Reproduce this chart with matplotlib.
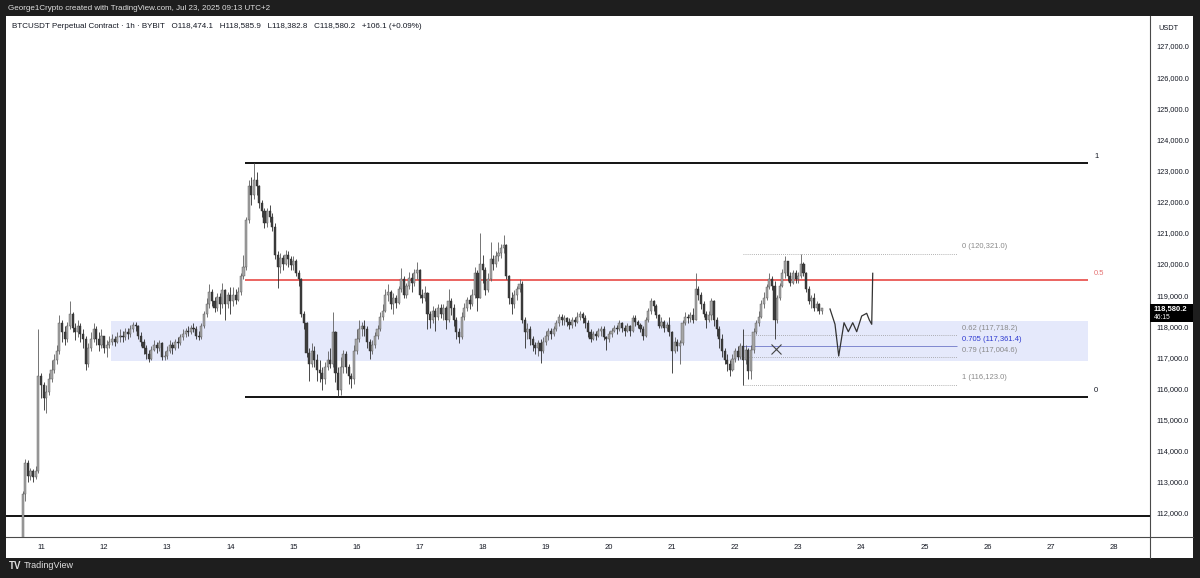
import matplotlib
matplotlib.use("Agg")
import matplotlib.pyplot as plt
import numpy as np
from matplotlib.patches import Rectangle
from matplotlib.lines import Line2D

plt.rcParams['font.family'] = ['Liberation Sans', 'DejaVu Sans']

# ---- candle data (BTCUSDT perp, 1h) -----------------------------------
start_hour = 17          # first candle: Jul 10, 17:00
first_open = 111100

closes_10 = [112600, 113600, 113200, 113350, 113150, 113350, 116400]
highs_10 = [112700, 113750, 113700, 113450, 113400, 113500, 117900]
lows_10 = [110900, 112400, 113000, 113050, 113000, 113100, 113300]

closes_11 = [116100, 115700, 115900, 116300, 116600, 116900, 117200, 118100, 117800, 117600, 118000, 118400,
             117950, 117800, 118000, 117750, 117600, 116800, 117300, 117600, 117900, 117600, 117400, 117700]
highs_11 = [116500, 116200, 116100, 116500, 116900, 117100, 117400, 118350, 118200, 118000, 118150, 118800,
            118450, 118100, 118200, 118100, 117900, 117700, 117450, 117800, 118100, 118000, 117800, 117900]
lows_11 = [115700, 115300, 115200, 115800, 116200, 116500, 116800, 117100, 117500, 117400, 117500, 117900,
           117800, 117550, 117650, 117500, 117300, 116600, 116700, 117200, 117500, 117400, 117200, 117300]

closes_12 = [117300, 117400, 117500, 117600, 117500, 117650, 117700, 117650, 117800, 117750, 117900, 118050,
             118000, 117700, 117500, 117300, 117100, 116950, 117250, 117400, 117300, 117450, 117000, 117050]
highs_12 = [117700, 117550, 117700, 117750, 117700, 117800, 117900, 117850, 117950, 117950, 118050, 118150,
            118150, 118050, 117800, 117600, 117400, 117250, 117350, 117550, 117500, 117550, 117500, 117200]
lows_12 = [117150, 117000, 117300, 117400, 117350, 117450, 117500, 117500, 117550, 117600, 117650, 117800,
           117850, 117600, 117350, 117100, 116950, 116850, 116900, 117200, 117150, 117200, 116900, 116900]

closes_13 = [117200, 117400, 117300, 117500, 117450, 117650, 117750, 117850, 117800, 117950, 117900, 117700,
             117650, 118000, 118400, 118700, 119100, 118800, 118600, 118950, 118700, 119150, 118700, 119000]
highs_13 = [117350, 117550, 117500, 117600, 117650, 117750, 117900, 117950, 118000, 118050, 118100, 118000,
            117850, 118100, 118500, 118900, 119350, 119200, 118950, 119050, 119050, 119400, 119200, 119100]
lows_13 = [116950, 117150, 117100, 117250, 117300, 117400, 117550, 117650, 117700, 117750, 117800, 117600,
           117550, 117600, 117950, 118300, 118600, 118650, 118450, 118500, 118400, 118600, 118200, 118600]

closes_14 = [118800, 119000, 118850, 119100, 119600, 119900, 121400, 122500, 122200, 122700, 122500, 121950,
             121700, 121300, 121700, 121500, 121200, 120300, 119900, 120200, 120000, 120300, 120150, 119950]
highs_14 = [119250, 119250, 119200, 119250, 119700, 120300, 121500, 122700, 122800, 123240, 122950, 122550,
            122050, 121800, 121800, 121900, 121650, 121300, 120400, 120350, 120300, 120450, 120400, 120250]
lows_14 = [118400, 118650, 118700, 118800, 119000, 119500, 119800, 121300, 121900, 122100, 122200, 121800,
           121500, 121150, 121200, 121350, 121050, 120150, 119230, 119700, 119800, 119950, 119900, 119800]

closes_15 = [120100, 119700, 119500, 118400, 118100, 117150, 116800, 117200, 116900, 116600, 116500, 116300,
             116700, 116900, 116800, 117800, 116500, 115950, 116700, 117100, 116700, 116400, 116300, 117200]
highs_15 = [120250, 120150, 119800, 119550, 118500, 118150, 117300, 117450, 117350, 117100, 116900, 116700,
            116850, 117200, 117300, 118450, 117850, 116700, 117000, 117250, 117200, 116800, 116500, 117400]
lows_15 = [119800, 119600, 119300, 118300, 117900, 117000, 116250, 116700, 116700, 116250, 116200, 115950,
           116150, 116600, 116650, 116700, 116200, 115720, 115800, 116500, 116500, 116150, 116000, 116150]

closes_16 = [117600, 117900, 118000, 117900, 117500, 117200, 117400, 117700, 117900, 118300, 118500, 119000,
             119100, 118700, 118900, 118750, 119200, 119500, 119000, 119300, 119550, 119400, 119700, 119800]
highs_16 = [117900, 118200, 118150, 118200, 118000, 117600, 117550, 117800, 118050, 118450, 118700, 119200,
            119350, 119150, 119050, 119000, 119300, 119870, 119600, 119400, 119750, 119700, 119850, 120050]
lows_16 = [117100, 117500, 117700, 117700, 117300, 116950, 117100, 117300, 117600, 117850, 118200, 118450,
           118800, 118550, 118400, 118600, 118700, 119100, 118900, 118900, 119200, 119100, 119300, 119500]

closes_17 = [119000, 118900, 119050, 118400, 118200, 118500, 118300, 118600, 118400, 118600, 118200, 118800,
             118600, 118200, 117800, 117650, 118300, 118600, 118850, 118700, 119000, 119700, 118900, 120000]
highs_17 = [119850, 119200, 119300, 119100, 118500, 118650, 118600, 118700, 118700, 118700, 118650, 119200,
            118900, 118700, 118300, 117950, 118450, 118750, 118950, 119000, 119200, 119900, 119800, 120990]
lows_17 = [118900, 118750, 118800, 117900, 117950, 118100, 117850, 118200, 118250, 118200, 117900, 118150,
           118350, 118000, 117600, 117460, 117600, 118200, 118500, 118550, 118650, 118900, 118500, 118900]

closes_18 = [119800, 119150, 119500, 120150, 120000, 120250, 120350, 120500, 120600, 119600, 118900, 118700,
             119000, 119200, 119350, 118200, 117800, 117900, 117600, 117400, 117300, 117450, 117200, 117500]
highs_18 = [120300, 119900, 119700, 120700, 120300, 120400, 120700, 120650, 120930, 120650, 119650, 119100,
            119150, 119300, 119500, 119450, 118300, 118100, 118000, 117700, 117500, 117550, 117600, 117650]
lows_18 = [119400, 119000, 119100, 119450, 119800, 119900, 120100, 120200, 120350, 119500, 118700, 118400,
           118600, 118850, 119100, 118100, 117300, 117600, 117400, 117200, 117100, 117050, 116820, 117150]

closes_19 = [117700, 117850, 117750, 117900, 118100, 118300, 118200, 118250, 118150, 118050, 118200, 118150,
             118300, 118400, 118250, 118100, 117800, 117600, 117750, 117700, 117850, 117900, 117650, 117600]
highs_19 = [117850, 117950, 117950, 118000, 118200, 118400, 118400, 118350, 118300, 118250, 118300, 118300,
            118450, 118500, 118450, 118350, 118200, 117900, 117850, 117850, 117950, 118000, 118000, 117700]
lows_19 = [117400, 117550, 117600, 117700, 117850, 118000, 118050, 118050, 118000, 117900, 117950, 118000,
           118100, 118200, 118100, 117950, 117650, 117500, 117550, 117550, 117650, 117700, 117550, 117250]

closes_20 = [117750, 117850, 117950, 117900, 118100, 117950, 117850, 118000, 117850, 118250, 118150, 118050,
             117900, 117700, 118200, 118500, 118800, 118650, 118350, 118000, 118150, 117950, 118050, 117800]
highs_20 = [117850, 117950, 118050, 118050, 118200, 118150, 118050, 118100, 118050, 118350, 118350, 118200,
            118100, 118000, 118300, 118600, 118900, 118850, 118700, 118400, 118300, 118200, 118150, 118300]
lows_20 = [117500, 117650, 117800, 117750, 117850, 117800, 117700, 117800, 117700, 117800, 118000, 117950,
           117800, 117550, 117650, 118150, 118400, 118500, 118250, 117950, 117950, 117800, 117850, 117700]

closes_21 = [117200, 117500, 117350, 117450, 118100, 118300, 118250, 118350, 118200, 119200, 119000, 118700,
             118400, 118200, 118350, 118800, 118200, 117900, 117600, 117200, 116900, 116800, 116600, 116950]
highs_21 = [117850, 117650, 117600, 117550, 118200, 118450, 118400, 118450, 118600, 119700, 119300, 119100,
            118800, 118500, 118500, 118900, 118850, 118300, 118000, 117750, 117300, 117100, 116900, 117100]
lows_21 = [116500, 117150, 117200, 116800, 117400, 118050, 118100, 118150, 118100, 118200, 118850, 118550,
           118300, 117950, 118150, 118200, 118000, 117700, 117300, 117000, 116800, 116550, 116400, 116550]

closes_22 = [117200, 117000, 117350, 116900, 117250, 116550, 117250, 117800, 118100, 118300, 118700, 118900,
             119250, 119500, 119300, 118200, 118900, 119300, 119700, 120100, 119600, 119400, 119700, 119500]
highs_22 = [117300, 117350, 117450, 117900, 117400, 117300, 117400, 117950, 118200, 118500, 118850, 119100,
            119350, 119700, 119600, 119450, 119000, 119400, 119850, 120250, 120100, 119750, 119800, 119800]
lows_22 = [116850, 116900, 116950, 116123, 116800, 116300, 116300, 117150, 117750, 118000, 118250, 118600,
           118850, 119200, 119150, 117600, 118100, 118850, 119250, 119550, 119450, 119300, 119350, 119400]

closes_23 = [119600, 120000, 119700, 119200, 118800, 118900, 118600, 118700, 118474.1, 118580.2]
highs_23 = [119750, 120321, 120050, 119750, 119300, 119000, 119050, 118800, 118750, 118585.9]
lows_23 = [119400, 119550, 119600, 119100, 118700, 118600, 118500, 118500, 118400, 118382.8]

# ---- drawn levels ------------------------------------------------------
range_top, range_mid, range_bottom = 123242, 119484, 115726
support_line = 111900
zone_low, zone_high = 116882, 118167
fib_ratios = ['0', '0.62', '0.705', '0.79', '1']
fib_prices = [120321.0, 117718.2, 117361.4, 117004.6, 116123.0]
x_mark = (22.648, 117267)
path_days = [23.504, 23.583, 23.642, 23.726, 23.794, 23.864, 23.927, 24.006, 24.085, 24.127, 24.165, 24.181]
path_prices = [118552, 118061, 117043, 118112, 117823, 118112, 117823, 118327, 118414, 118199, 118061, 119699]
day_ticks = list(range(11, 29))
price_ticks = list(range(112000, 128000, 1000))

closes = np.array(closes_10 + closes_11 + closes_12 + closes_13 + closes_14 + closes_15 + closes_16
                  + closes_17 + closes_18 + closes_19 + closes_20 + closes_21 + closes_22 + closes_23, float)
highs = np.array(highs_10 + highs_11 + highs_12 + highs_13 + highs_14 + highs_15 + highs_16
                 + highs_17 + highs_18 + highs_19 + highs_20 + highs_21 + highs_22 + highs_23, float)
lows = np.array(lows_10 + lows_11 + lows_12 + lows_13 + lows_14 + lows_15 + lows_16
                + lows_17 + lows_18 + lows_19 + lows_20 + lows_21 + lows_22 + lows_23, float)
opens = np.concatenate([[first_open], closes[:-1]])
times = 10 + (start_hour + np.arange(len(closes))) / 24.0

# ---- figure layout (pixel based) ---------------------------------------
W, H = 1200, 578
fig = plt.figure(figsize=(12, 5.78), dpi=100, facecolor='#1e1e1e')


def fx(px):
    return px / W


def fy(py):
    return 1 - py / H


fig.patches.append(Rectangle((fx(6), fy(558)), fx(1193) - fx(6), fy(16) - fy(558),
                             transform=fig.transFigure, facecolor='white', edgecolor='none', zorder=-10))
ax = fig.add_axes([fx(6), fy(537), fx(1150) - fx(6), fy(16) - fy(537)])
ax.set_xlim(10.4453, 28.575)
ax.set_ylim(111229, 127963)
ax.set_facecolor('white')
for s in ax.spines.values():
    s.set_visible(False)

# zone + levels
ax.add_patch(Rectangle((12.109, zone_low), 27.593 - 12.109, zone_high - zone_low,
                       facecolor='#e5e9fb', edgecolor='none', zorder=1))
ax.hlines([range_top, range_bottom], 14.24, 27.593, color='black', lw=1.3, zorder=3)
ax.hlines(range_mid, 14.24, 27.593, color='#e53935', lw=1.1, zorder=3)
ax.axhline(support_line, color='black', lw=1.3, zorder=3)
ax.annotate('1', (27.69, range_top), xytext=(0, 5), textcoords='offset points',
            fontsize=5.5, color='#131722', va='center', ha='left')
ax.annotate('0.5', (27.69, range_mid), xytext=(0, 5), textcoords='offset points',
            fontsize=5.5, color='#e57373', va='center', ha='left')
ax.annotate('0', (27.69, range_bottom), xytext=(0, 5), textcoords='offset points',
            fontsize=5.5, color='#131722', va='center', ha='left')

# fib retracement
for r, p in zip(fib_ratios, fib_prices):
    blue = r == '0.705'
    ax.hlines(p, 22.125, 25.517, color='#6f78c8' if blue else '#9a9a9a',
              lw=0.6, linestyles='-' if blue else (0, (1, 1.5)), zorder=2)
    ax.annotate(f'{r} ({p:,.1f})', (25.596, p), xytext=(0, 5), textcoords='offset points',
                fontsize=5.5, color='#2f3bd1' if blue else '#8a8a8a', va='center', ha='left')

# candles
up = closes >= opens
body_lo = np.minimum(opens, closes)
body_h = np.maximum(np.abs(closes - opens), 25)
ax.vlines(times[up], lows[up], highs[up], color='#5e5e5e', lw=0.6, zorder=4)
ax.vlines(times[~up], lows[~up], highs[~up], color='#2b2b2b', lw=0.6, zorder=4)
ax.bar(times[up], body_h[up], bottom=body_lo[up], width=0.8 / 24, color='#a6a6a6',
       edgecolor='#555555', linewidth=0.3, zorder=5)
ax.bar(times[~up], body_h[~up], bottom=body_lo[~up], width=0.8 / 24, color='#3d3d3d',
       edgecolor='#2b2b2b', linewidth=0.3, zorder=5)

# drawings
ax.plot(path_days, path_prices, color='#333333', lw=0.9, zorder=6, solid_joinstyle='round')
ax.plot(*x_mark, marker='x', ms=6.5, mew=0.8, color='#444444', zorder=6)

# axes ticks
ax.set_xticks(day_ticks)
ax.set_xticklabels([str(d) for d in day_ticks])
ax.set_yticks(price_ticks)
ax.set_yticklabels([f'{p:,.1f}' for p in price_ticks])
ax.yaxis.tick_right()
ax.tick_params(axis='y', length=0, pad=4.5, labelsize=5.3, labelcolor='#131722')
ax.tick_params(axis='x', length=0, pad=5, labelsize=5.5, labelcolor='#131722')

# separators
fig.add_artist(Line2D([fx(1150), fx(1150)], [fy(16), fy(558)], color='#4a4a4a', lw=0.8))
fig.add_artist(Line2D([fx(6), fx(1193)], [fy(537), fy(537)], color='#4a4a4a', lw=0.8))

# texts
fig.text(fx(8), fy(8), 'George1Crypto created with TradingView.com, Jul 23, 2025 09:13 UTC+2',
         fontsize=5.8, color='#e0e0e0', va='center', ha='left')
fig.text(fx(12), fy(27), 'BTCUSDT Perpetual Contract \u00b7 1h \u00b7 BYBIT   O118,474.1   H118,585.9   '
         'L118,382.8   C118,580.2   +106.1 (+0.09%)', fontsize=5.8, color='#131722', va='center', ha='left')
fig.text(fx(1158), fy(29), 'USDT', fontsize=5.3, color='#131722', va='center', ha='left')

fig.patches.append(Rectangle((fx(1150), fy(322)), fx(1193) - fx(1150), fy(304) - fy(322),
                             transform=fig.transFigure, facecolor='black', edgecolor='none', zorder=3))
fig.text(fx(1154), fy(309.5), f'{closes[-1]:,.1f}', fontsize=5.5, color='white',
         fontweight='bold', va='center', ha='left', zorder=4)
fig.text(fx(1154), fy(317.5), '46:15', fontsize=4.8, color='white', va='center', ha='left', zorder=4)

fig.text(fx(9), fy(566), 'TV', fontsize=7, color='#e0e0e0', fontweight='bold', va='center', ha='left')
fig.text(fx(24), fy(566), 'TradingView', fontsize=6.5, color='#e0e0e0', va='center', ha='left')

fig.savefig('out.png', dpi=100, facecolor=fig.get_facecolor())
